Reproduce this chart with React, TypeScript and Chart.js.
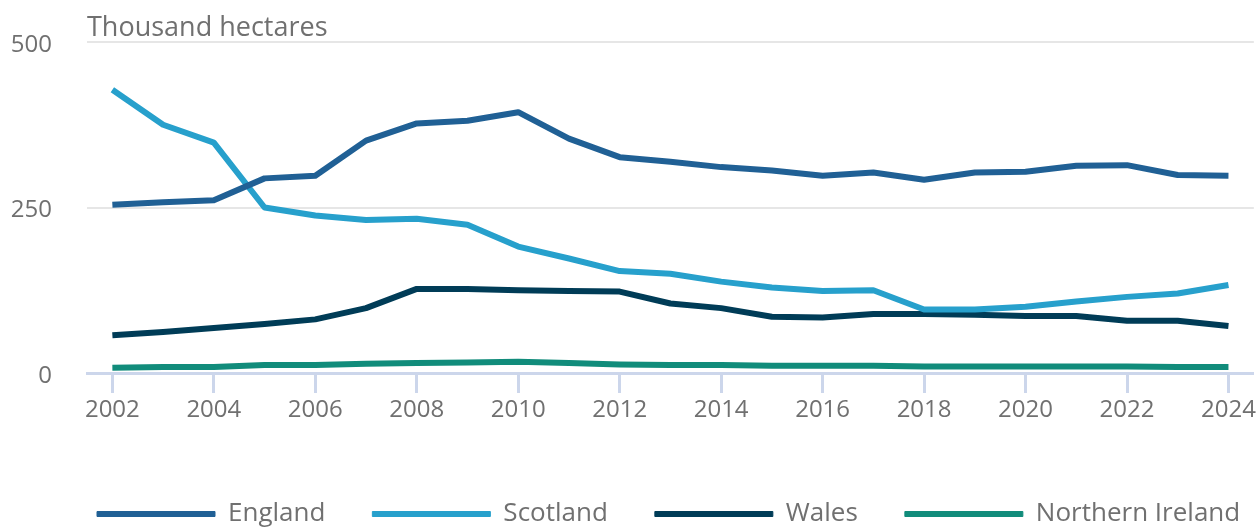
import React, { useEffect, useRef } from "react";
import { Chart, registerables } from "chart.js";

Chart.register(...registerables);

const years = [2002, 2003, 2004, 2005, 2006, 2007, 2008, 2009, 2010, 2011, 2012, 2013, 2014, 2015, 2016, 2017, 2018, 2019, 2020, 2021, 2022, 2023, 2024];
const england = [254, 258, 261, 294, 298, 351, 377, 381, 394, 354, 326, 319, 311, 306, 298, 303, 292, 303, 304, 313, 314, 299, 298];
const scotland = [428, 375, 348, 250, 238, 231, 233, 224, 191, 173, 154, 150, 138, 129, 124, 125, 96, 96, 100, 108, 115, 120, 133];
const wales = [57, 62, 68, 74, 81, 98, 127, 127, 125, 124, 123, 105, 98, 85, 84, 89, 89, 88, 86, 86, 79, 79, 71];
const northernIreland = [8, 9, 9, 12, 12, 14, 15, 16, 17, 15, 13, 12, 12, 11, 11, 11, 10, 10, 10, 10, 10, 9, 9];
const tickYears = [2002, 2004, 2006, 2008, 2010, 2012, 2014, 2016, 2018, 2020, 2022, 2024];
const yTicks = [0, 250, 500];
const seriesNames = ["England", "Scotland", "Wales", "Northern Ireland"];
const seriesColors = ["#206095", "#27a0cc", "#003c57", "#118c7b"];
const unitLabel = "Thousand hectares";

const TEXT = "#707070";
const FONT = "'Open Sans', 'Noto Sans', sans-serif";

export default function App() {
  const ref = useRef<HTMLCanvasElement | null>(null);

  useEffect(() => {
    document.body.style.margin = "0";
    document.body.style.overflow = "hidden";
    document.documentElement.style.overflow = "hidden";
    const canvas = ref.current;
    if (!canvas) return;
    const series = [england, scotland, wales, northernIreland];
    const titlePlugin = {
      id: "unitTitle",
      afterLayout(chart: any) {
        const lg = chart.legend;
        if (lg) {
          lg.left += 40;
          lg.right += 40;
        }
      },
      afterDraw(chart: any) {
        const ctx = chart.ctx;
        ctx.save();
        ctx.font = `27px ${FONT}`;
        ctx.fillStyle = TEXT;
        ctx.textAlign = "left";
        ctx.textBaseline = "alphabetic";
        ctx.fillText(unitLabel, chart.chartArea.left, 35.5);
        ctx.restore();
      },
    };
    const chart = new Chart(canvas, {
      type: "line",
      data: {
        datasets: series.map((vals, i) => ({
          label: seriesNames[i],
          data: years.map((yr, j) => ({ x: yr, y: vals[j] })),
          borderColor: seriesColors[i],
          backgroundColor: seriesColors[i],
          borderWidth: 6,
          pointRadius: 0,
          pointHoverRadius: 0,
          tension: 0,
          borderJoinStyle: "round" as const,
          borderCapStyle: "butt" as const,
        })),
      },
      options: {
        animation: false,
        responsive: false,
        layout: { padding: { top: 42, left: 10, right: 4, bottom: 0 } },
        plugins: {
          tooltip: { enabled: false },
          title: { display: false },
          legend: {
            position: "bottom",
            align: "start",
            labels: {
              boxWidth: 118,
              boxHeight: 5,
              padding: 47,
              color: TEXT,
              font: { family: FONT, size: 26 },
              generateLabels: (c: any) =>
                (Chart.defaults.plugins.legend.labels as any).generateLabels(c).map((l: any) => ({
                  ...l,
                  lineWidth: 1,
                  fillStyle: l.strokeStyle,
                })),
            },
          },
        },
        scales: {
          x: {
            type: "linear",
            min: 2001.5,
            max: 2024.5,
            afterBuildTicks: (scale: any) => {
              scale.ticks = tickYears.map((v) => ({ value: v }));
            },
            afterFit: (scale: any) => {
              scale.height = 81;
            },
            grid: {
              display: true,
              drawOnChartArea: false,
              drawTicks: true,
              tickLength: 20,
              tickWidth: 3,
              tickColor: "#ccd6eb",
            },
            border: { display: true, color: "#ccd6eb", width: 3 },
            ticks: {
              color: TEXT,
              font: { family: FONT, size: 24 },
              padding: 3,
              maxRotation: 0,
              autoSkip: false,
              callback: (v: any) => String(v),
            },
          },
          y: {
            min: 0,
            max: 500,
            afterBuildTicks: (scale: any) => {
              scale.ticks = yTicks.map((v) => ({ value: v }));
            },
            afterFit: (scale: any) => {
              scale.width = 77;
              scale.paddingTop = 0;
            },
            grid: {
              drawTicks: false,
              lineWidth: 2,
              color: (ctx: any) => (ctx.tick && ctx.tick.value === 0 ? "rgba(0,0,0,0)" : "#e6e6e6"),
            },
            border: { display: false },
            ticks: {
              color: TEXT,
              font: { family: FONT, size: 24 },
              padding: 35,
              labelOffset: 3,
              callback: (v: any) => String(v),
            },
          },
        },
      },
      plugins: [titlePlugin],
    } as any);
    return () => chart.destroy();
  }, []);

  return (
    <div style={{ width: 1259, height: 537 }}>
      <canvas ref={ref} width={1259} height={537} style={{ width: 1259, height: 537, display: "block" }} />
    </div>
  );
}
